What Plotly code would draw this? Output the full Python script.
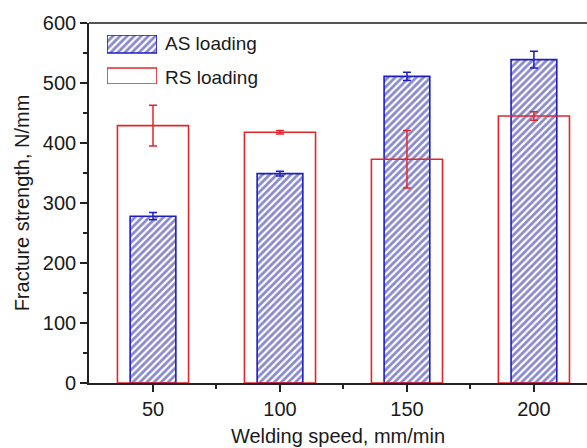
import plotly.graph_objects as go

speeds = [50, 100, 150, 200]
as_loading = [278, 349, 511, 539]
as_err = [6, 4, 7, 14]
rs_loading = [429, 418, 373, 445]
rs_err = [34, 3, 48, 7]

FONT = "Arial, Liberation Sans, sans-serif"
RED = "#e3262b"
BLUE = "#1c1cc8"
NAVY = "#14149e"

fig = go.Figure()
fig.add_trace(go.Bar(
    x=speeds, y=as_loading, width=18, name="AS loading",
    marker=dict(color="white", line=dict(color=BLUE, width=1.6),
                pattern=dict(shape="/", fgcolor=NAVY, bgcolor="white", size=5, solidity=0.55)),
    error_y=dict(type="data", array=as_err, color=BLUE, thickness=1.5, width=4),
    showlegend=False,
))
fig.add_trace(go.Bar(
    x=speeds, y=rs_loading, width=28, name="RS loading",
    marker=dict(color="rgba(0,0,0,0)", line=dict(color=RED, width=1.6)),
    error_y=dict(type="data", array=rs_err, color=RED, thickness=1.5, width=4),
    showlegend=False,
))

# legend swatches on an overlay axis
fig.add_trace(go.Bar(
    x=[1], y=[0.816], width=0.367, base=0, orientation="h", xaxis="x2", yaxis="y2",
    marker=dict(color="white", line=dict(color=BLUE, width=1.6),
                pattern=dict(shape="/", fgcolor=NAVY, bgcolor="white", size=5, solidity=0.55)),
    showlegend=False, hoverinfo="skip",
))
fig.add_trace(go.Bar(
    x=[1], y=[0.163], width=0.327, base=0, orientation="h", xaxis="x2", yaxis="y2",
    marker=dict(color="rgba(0,0,0,0)", line=dict(color=RED, width=1.6)),
    showlegend=False, hoverinfo="skip",
))

fig.update_layout(
    width=587, height=448,
    margin=dict(l=89, r=0, t=23, b=65),
    paper_bgcolor="white", plot_bgcolor="white",
    barmode="overlay",
    font=dict(family=FONT, size=20, color="#1a1a1a"),
    xaxis=dict(
        range=[24.8, 220.9], tickvals=speeds, ticktext=[str(s) for s in speeds],
        showline=True, linecolor="#222", linewidth=1.6, mirror=False,
        ticks="outside", ticklen=7, tickwidth=1.5, tickcolor="#222",
        minor=dict(tickvals=[75, 125, 175], ticks="outside", ticklen=4, tickwidth=1.5, tickcolor="#222"),
        showgrid=False, zeroline=False, automargin=False,
        title=dict(text="Welding speed, mm/min", font=dict(size=20), standoff=10),
        tickfont=dict(size=20),
    ),
    yaxis=dict(
        range=[0, 600], tickvals=[0, 100, 200, 300, 400, 500, 600],
        showline=True, linecolor="#222", linewidth=1.6,
        ticks="outside", ticklen=7, tickwidth=1.5, tickcolor="#222",
        minor=dict(tickvals=[50, 150, 250, 350, 450, 550], ticks="outside", ticklen=4, tickwidth=1.5, tickcolor="#222"),
        showgrid=False, zeroline=False, automargin=False,
        title=dict(text="Fracture strength, N/mm", font=dict(size=20), standoff=8),
        tickfont=dict(size=20),
    ),
    xaxis2=dict(domain=[0.0361, 0.1365], range=[0, 1], visible=False, anchor="y2", fixedrange=True),
    yaxis2=dict(domain=[0.8306, 0.9667], range=[0, 1], visible=False, anchor="x2", fixedrange=True),
    shapes=[dict(type="line", xref="paper", yref="paper", x0=0, x1=1, y0=1, y1=1,
                 line=dict(color="#555", width=2))],
    annotations=[
        dict(text="AS loading", xref="paper", yref="paper", x=0.1486, y=0.9417,
             xanchor="left", yanchor="middle", showarrow=False, font=dict(size=19)),
        dict(text="RS loading", xref="paper", yref="paper", x=0.1486, y=0.85,
             xanchor="left", yanchor="middle", showarrow=False, font=dict(size=19)),
    ],
)

fig.write_html("out.html", config={"displayModeBar": False},
               post_script="document.body.style.margin='0';document.body.style.overflow='hidden';")
